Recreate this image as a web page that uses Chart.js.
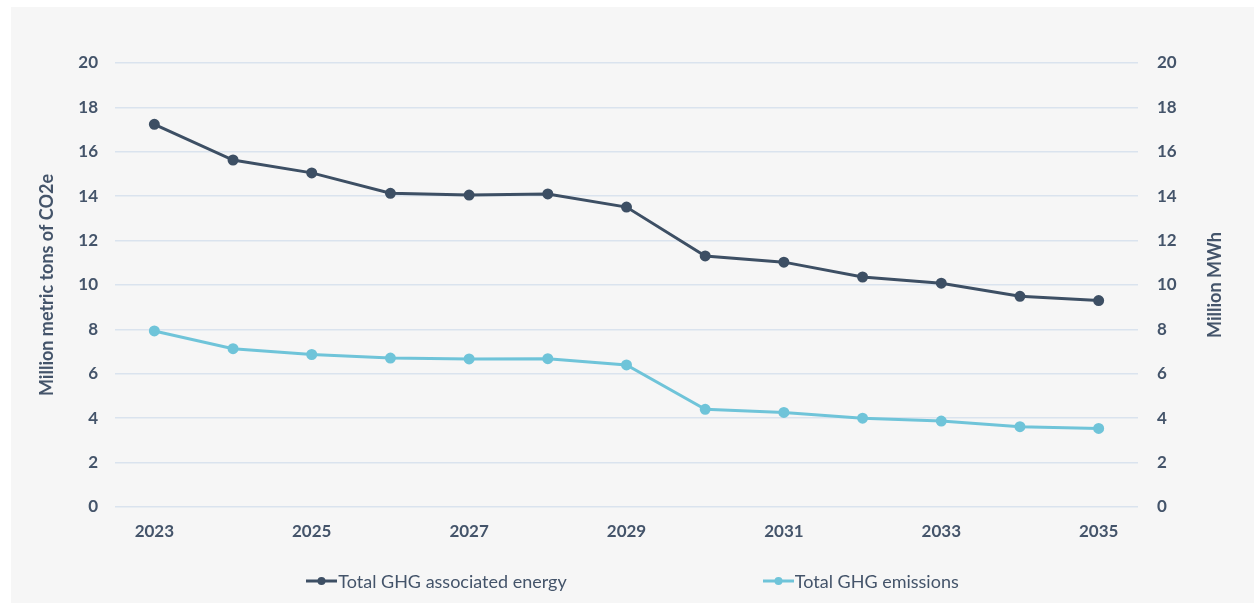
<!DOCTYPE html>
<html>
<head>
<meta charset="utf-8">
<script src="https://cdn.jsdelivr.net/npm/chart.js@4"></script>
<style>
  html, body { margin: 0; padding: 0; background: #ffffff; }
  #panel {
    position: absolute; left: 11px; top: 7px; width: 1243px; height: 596px;
    background: #f6f6f6;
  }
  #chart { position: absolute; left: 0; top: 0; }
  #legend {
    position: absolute; left: 0; top: 562px; width: 1243px; height: 24px;
    display: flex; justify-content: center; align-items: center;
    font-family: Lato, "Open Sans", sans-serif; font-size: 18px; color: #44546a;
  }
  .item { display: flex; align-items: center; }
  .item + .item { margin-left: 196px; }
  .item canvas { margin-right: 1px; }
</style>
</head>
<body>
<div id="panel">
  <canvas id="chart" width="1243" height="596"></canvas>
  <div id="legend"></div>
</div>
<script>
// Annual series, 2023-2035
const years = ['2023','2024','2025','2026','2027','2028','2029','2030','2031','2032','2033','2034','2035'];
const energy = [17.24, 15.63, 15.05, 14.13, 14.05, 14.10, 13.51, 11.31, 11.03, 10.36, 10.08, 9.49, 9.30];
const emissions = [7.93, 7.13, 6.87, 6.71, 6.67, 6.68, 6.40, 4.40, 4.26, 4.00, 3.87, 3.62, 3.54];
const seriesNames = ['Total GHG associated energy', 'Total GHG emissions'];
const axisTitles = ['Million metric tons of CO2e', 'Million MWh'];

const textColor = '#44546a';
const darkLine = '#3d4f64';
const lightLine = '#6fc4d9';
const gridColor = '#dae3ee';
const fontFamily = 'Lato, "Open Sans", sans-serif';
const tickFont = { family: fontFamily, size: 17, weight: 'bold' };
const titleFont = { family: fontFamily, size: 18, weight: 'bold' };

// Right-hand axis title, reading bottom-to-top like the left one
const rightTitle = {
  id: 'rightTitle',
  afterDraw(chart) {
    const s = chart.scales.y1;
    const ctx = chart.ctx;
    ctx.save();
    ctx.translate(s.right - 39, (chart.chartArea.top + chart.chartArea.bottom) / 2);
    ctx.rotate(-Math.PI / 2);
    ctx.font = `bold ${titleFont.size}px ${fontFamily}`;
    ctx.fillStyle = textColor;
    ctx.textAlign = 'center';
    ctx.textBaseline = 'middle';
    ctx.fillText(axisTitles[1], 0, 0);
    ctx.restore();
  }
};

const chart = new Chart(document.getElementById('chart'), {
  type: 'line',
  data: {
    labels: years,
    datasets: [
      {
        label: seriesNames[0], data: energy, yAxisID: 'y1',
        borderColor: darkLine, backgroundColor: darkLine,
        borderWidth: 3, pointRadius: 4, pointHoverRadius: 4, tension: 0
      },
      {
        label: seriesNames[1], data: emissions, yAxisID: 'y',
        borderColor: lightLine, backgroundColor: lightLine,
        borderWidth: 3, pointRadius: 4, pointHoverRadius: 4, tension: 0
      }
    ]
  },
  plugins: [rightTitle],
  options: {
    responsive: false,
    animation: false,
    layout: { padding: { top: 56, bottom: 56, left: 0, right: 0 } },
    plugins: { legend: { display: false }, tooltip: { enabled: false } },
    scales: {
      x: {
        offset: true,
        grid: { display: false, drawTicks: false },
        border: { display: false },
        ticks: {
          autoSkip: false, maxRotation: 0, padding: 14,
          color: textColor, font: tickFont,
          callback: function (v, i) { return i % 2 === 0 ? this.getLabelForValue(v) : ''; }
        },
        afterFit: s => { s.height = 40; }
      },
      y: {
        position: 'left', min: 0, max: 20,
        grid: { color: gridColor, lineWidth: 1.5, drawTicks: false },
        border: { display: false },
        ticks: { stepSize: 2, padding: 17, color: textColor, font: tickFont },
        title: { display: true, text: axisTitles[0], color: textColor, font: titleFont, padding: { top: 25, bottom: 0 } },
        afterFit: s => { s.width = 104; }
      },
      y1: {
        position: 'right', min: 0, max: 20,
        grid: { display: false, drawTicks: false },
        border: { display: false },
        ticks: { stepSize: 2, padding: 19, color: textColor, font: tickFont },
        afterFit: s => { s.width = 116; }
      }
    }
  }
});

// Legend swatches: a short line with a marker, as in the series
const legend = document.getElementById('legend');
chart.data.datasets.forEach(ds => {
  const item = document.createElement('div');
  item.className = 'item';
  const sw = document.createElement('canvas');
  sw.width = 31; sw.height = 12;
  const c = sw.getContext('2d');
  c.strokeStyle = ds.borderColor; c.lineWidth = 3;
  c.beginPath(); c.moveTo(0, 6); c.lineTo(31, 6); c.stroke();
  c.fillStyle = ds.borderColor;
  c.beginPath(); c.arc(15.5, 6, 4, 0, Math.PI * 2); c.fill();
  const label = document.createElement('span');
  label.textContent = ds.label;
  item.appendChild(sw); item.appendChild(label);
  legend.appendChild(item);
});
</script>
</body>
</html>
